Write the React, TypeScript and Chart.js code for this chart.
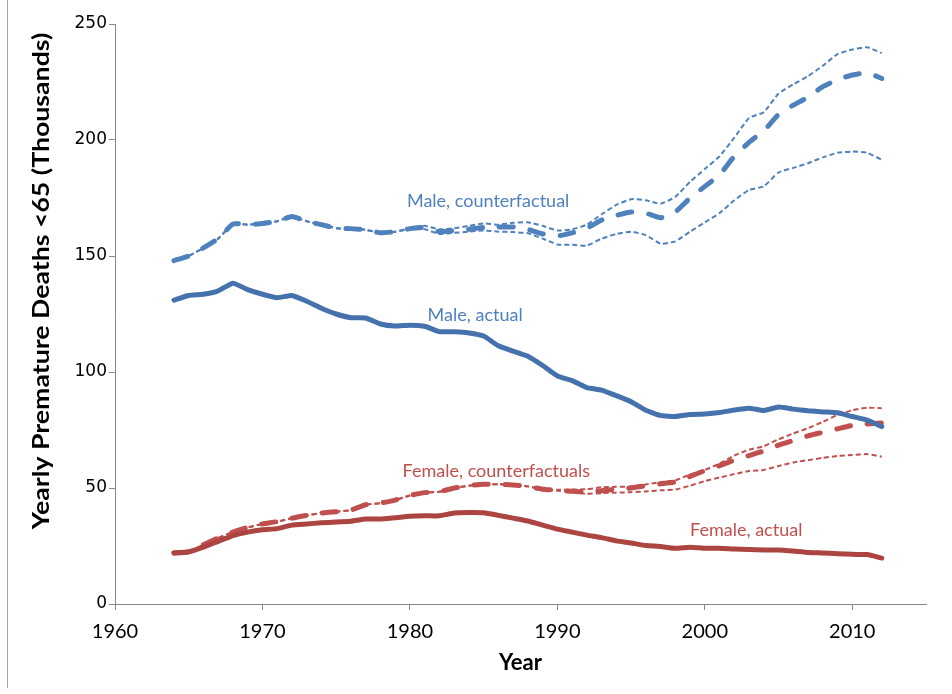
import { useEffect, useRef } from "react";
import { Chart, registerables } from "chart.js";

Chart.register(...registerables);

const years = [
  1964, 1965, 1966, 1967, 1968, 1969, 1970, 1971, 1972, 1973, 1974, 1975, 1976,
  1977, 1978, 1979, 1980, 1981, 1982, 1983, 1984, 1985, 1986, 1987, 1988, 1989,
  1990, 1991, 1992, 1993, 1994, 1995, 1996, 1997, 1998, 1999, 2000, 2001, 2002,
  2003, 2004, 2005, 2006, 2007, 2008, 2009, 2010, 2011, 2012,
];

const maleActual = [
  131, 133, 133.5, 135, 138.3, 135.5, 133.5, 132, 133, 130.5, 127.5, 125, 123.4,
  123.3, 120.7, 119.8, 120.2, 119.7, 117.4, 117.3, 116.8, 115.5, 111.3, 109,
  106.8, 102.8, 98.3, 96.3, 93.3, 92.2, 89.8, 87.2, 83.5, 81.3, 80.8, 81.7, 81.9,
  82.5, 83.6, 84.4, 83.4, 84.9, 84, 83.3, 82.8, 82.4, 80.8, 79.3, 76.5,
];

const maleCounterfactual = [
  148, 150, 153.5, 157.5, 163.8, 163.5, 164, 165, 167, 165, 163.5, 162, 161.8,
  161.3, 160, 160.5, 161.8, 162.3, 160.5, 161, 161.5, 162.3, 162.5, 162.5, 161.5,
  159.5, 158.6, 160, 162, 165.5, 167.5, 169, 168.5, 166.5, 169, 175, 180, 185,
  193, 199, 204, 211, 215, 218.5, 223, 226, 228, 229, 226.5,
];

const maleUpper = [
  148, 150, 153.5, 157.5, 163.8, 163.5, 164, 165, 167, 165, 163.5, 162, 161.8,
  161.3, 160, 160.5, 162, 163, 161.5, 162, 163, 164, 163.5, 164.3, 164.5, 163,
  161, 161.5, 163.5, 168, 172, 174.5, 174, 172.5, 175.5, 182, 187.5, 193, 201,
  209.5, 212, 220, 224, 227.5, 232, 237, 239, 240, 237.5,
];

const maleLower = [
  148, 150, 153.5, 157.5, 163.8, 163.5, 164, 165, 167, 165, 163.5, 162, 161.8,
  161.3, 160, 160.5, 161.5, 161.5, 159.5, 160, 160.5, 161, 160.5, 160.3, 159.8,
  157.5, 155, 154.8, 154.5, 157.5, 159.5, 160.5, 159, 155.3, 156.3, 160.5, 164.5,
  168.5, 174, 178.5, 180, 186, 188, 190, 192.5, 194.5, 195, 194.5, 191.5,
];

const femaleActual = [
  22, 22.5, 24.5, 27, 29.5, 31, 32, 32.5, 34, 34.5, 35, 35.3, 35.7, 36.6, 36.6,
  37.2, 37.8, 38, 38, 39.2, 39.4, 39.3, 38.2, 37, 35.8, 34, 32.3, 31, 29.7, 28.6,
  27.2, 26.3, 25.2, 24.8, 24, 24.5, 24, 24, 23.7, 23.5, 23.3, 23.3, 22.8, 22.2,
  22, 21.7, 21.4, 21.3, 19.8,
];

const femaleCounterfactual = [
  22, 22.5, 25.5, 28.5, 31, 33, 34.5, 35.5, 37, 38.2, 39.2, 39.8, 40.5, 42.8,
  43.5, 44.8, 46.8, 48, 48.4, 50, 51, 51.6, 51.6, 51.3, 50.7, 49.5, 49, 48.6,
  48.2, 48.8, 49.5, 50, 51, 51.8, 52.6, 55, 57.5, 59.6, 62, 64, 66, 68.5, 70.5,
  72.5, 74, 75.5, 77, 77.6, 78,
];

const femaleUpper = [
  22, 22.5, 25.5, 28.5, 31, 33, 34.5, 35.5, 37, 38.2, 39.2, 39.8, 40.5, 42.8,
  43.5, 44.8, 46.8, 48, 48.4, 50, 51, 51.6, 51.6, 51.3, 50.7, 49.6, 49.2, 49.3,
  49.5, 50.3, 50.5, 50.6, 51.5, 52.5, 53.3, 55.8, 57.8, 60.5, 64, 66.5, 68, 71,
  73.5, 75.8, 78.5, 81.5, 83.5, 84.6, 84.4,
];

const femaleLower = [
  22, 22.5, 25.5, 28.5, 31, 33, 34.5, 35.5, 37, 38.2, 39.2, 39.8, 40.5, 42.8,
  43.5, 44.8, 46.8, 48, 48.4, 50, 51, 51.6, 51.6, 51.3, 50.7, 49.4, 48.8, 48.3,
  47.5, 47.8, 48, 48.2, 48.5, 49, 49.3, 51, 53, 54.5, 56, 57.3, 57.8, 59.5, 61,
  62, 63, 63.8, 64.2, 64.6, 63.5,
];

const xTicks = [1960, 1970, 1980, 1990, 2000, 2010];
const yTicks = [0, 50, 100, 150, 200, 250];
const xTitle = "Year";
const yTitle = "Yearly Premature Deaths <65 (Thousands)";

const seriesLabels = [
  "Male, counterfactual",
  "Male, actual",
  "Female, counterfactuals",
  "Female, actual",
];

const BLUE = "#4F81BD";
const BLUE_DARK = "#4572AC";
const RED = "#C0504D";
const RED_DARK = "#AC4441";

function pts(values: number[]) {
  return years.map((y, i) => ({ x: y, y: values[i] }));
}

const textPlugin = {
  id: "customTexts",
  afterDraw(chart: any) {
    const { ctx, scales, chartArea } = chart;
    const xs = scales.x;
    const ys = scales.y;
    ctx.save();
    ctx.fillStyle = "#000";
    ctx.textAlign = "center";
    ctx.textBaseline = "middle";
    // Y axis title
    ctx.save();
    ctx.font = "bold 23px Lato, 'Open Sans', sans-serif";
    ctx.translate(chartArea.left - 73, chartArea.top + 257);
    ctx.rotate(-Math.PI / 2);
    ctx.scale(1.16, 1);
    ctx.fillText(yTitle, 0, 0);
    ctx.restore();
    // X axis title
    ctx.font = "bold 22px Lato, 'Open Sans', sans-serif";
    ctx.fillText(xTitle, (chartArea.left + chartArea.right) / 2, chartArea.bottom + 59);

    // Series annotations
    const anchors = [
      { x: 1979.8, y: 173.7, color: BLUE },
      { x: 1981.2, y: 124.6, color: BLUE },
      { x: 1979.5, y: 57.3, color: RED },
      { x: 1999.0, y: 31.9, color: RED },
    ];
    ctx.font = "18px Lato, 'Open Sans', sans-serif";
    ctx.textAlign = "left";
    anchors.forEach((a, i) => {
      ctx.fillStyle = a.color;
      ctx.fillText(seriesLabels[i], xs.getPixelForValue(a.x), ys.getPixelForValue(a.y));
    });
    ctx.restore();
  },
};

export default function App() {
  const ref = useRef<HTMLCanvasElement | null>(null);

  useEffect(() => {
    if (!ref.current) return;
    const thin = { borderWidth: 2, borderDash: [5, 3], pointRadius: 0, tension: 0.15, fill: false };
    const thick = { borderWidth: 5, borderDash: [14, 17], borderCapStyle: "round" as const, pointRadius: 0, tension: 0.15, fill: false };
    const solid = { borderWidth: 5, pointRadius: 0, tension: 0.15, fill: false, borderCapStyle: "round" as const, borderJoinStyle: "round" as const };

    const chart = new Chart(ref.current, {
      type: "line",
      data: {
        datasets: [
          { label: "Male, actual", data: pts(maleActual), borderColor: BLUE_DARK, ...solid },
          { label: "Female, actual", data: pts(femaleActual), borderColor: RED_DARK, ...solid },
          { label: "Male, counterfactual", data: pts(maleCounterfactual), borderColor: BLUE, ...thick },
          { label: "Female, counterfactual", data: pts(femaleCounterfactual), borderColor: RED, ...thick },
          { label: "Male, upper", data: pts(maleUpper), borderColor: BLUE, ...thin },
          { label: "Male, lower", data: pts(maleLower), borderColor: BLUE, ...thin },
          { label: "Female, upper", data: pts(femaleUpper), borderColor: RED, ...thin },
          { label: "Female, lower", data: pts(femaleLower), borderColor: RED, ...thin },
        ],
      },
      options: {
        animation: false,
        responsive: true,
        maintainAspectRatio: false,
        layout: { padding: { top: 24, right: 26, left: 0, bottom: 0 } },
        plugins: { legend: { display: false }, tooltip: { enabled: false } },
        scales: {
          x: {
            type: "linear",
            min: 1960,
            max: 2015,
            afterBuildTicks: (s: any) => {
              s.ticks = xTicks.map((v) => ({ value: v }));
            },
            afterFit: (s: any) => {
              s.height = 90;
            },
            grid: { drawOnChartArea: false, drawTicks: true, tickLength: 6, color: "#888888" },
            border: { color: "#888888", width: 1 },
            ticks: {
              color: "#000",
              padding: 10,
              font: { family: "Lato, 'Open Sans', sans-serif", size: 20 },
              callback: (v: any) => String(v),
            },
          },
          y: {
            type: "linear",
            min: 0,
            max: 250,
            afterBuildTicks: (s: any) => {
              s.ticks = yTicks.map((v) => ({ value: v }));
            },
            afterFit: (s: any) => {
              s.width = 115;
            },
            grid: { drawOnChartArea: false, drawTicks: true, tickLength: 6, color: "#888888" },
            border: { color: "#888888", width: 1 },
            ticks: {
              color: "#000",
              padding: 2,
              font: { family: "'DejaVu Sans', sans-serif", size: 17 },
              callback: (v: any) => String(v),
            },
          },
        },
      },
      plugins: [textPlugin],
    });
    return () => chart.destroy();
  }, []);

  return (
    <div style={{ position: "fixed", left: 0, top: 0, width: 952, height: 694, background: "#fff" }}>
      <div style={{ position: "absolute", left: 7, top: 0, width: 1, height: 688, background: "#a6a6a6" }} />
      <canvas ref={ref} />
    </div>
  );
}
